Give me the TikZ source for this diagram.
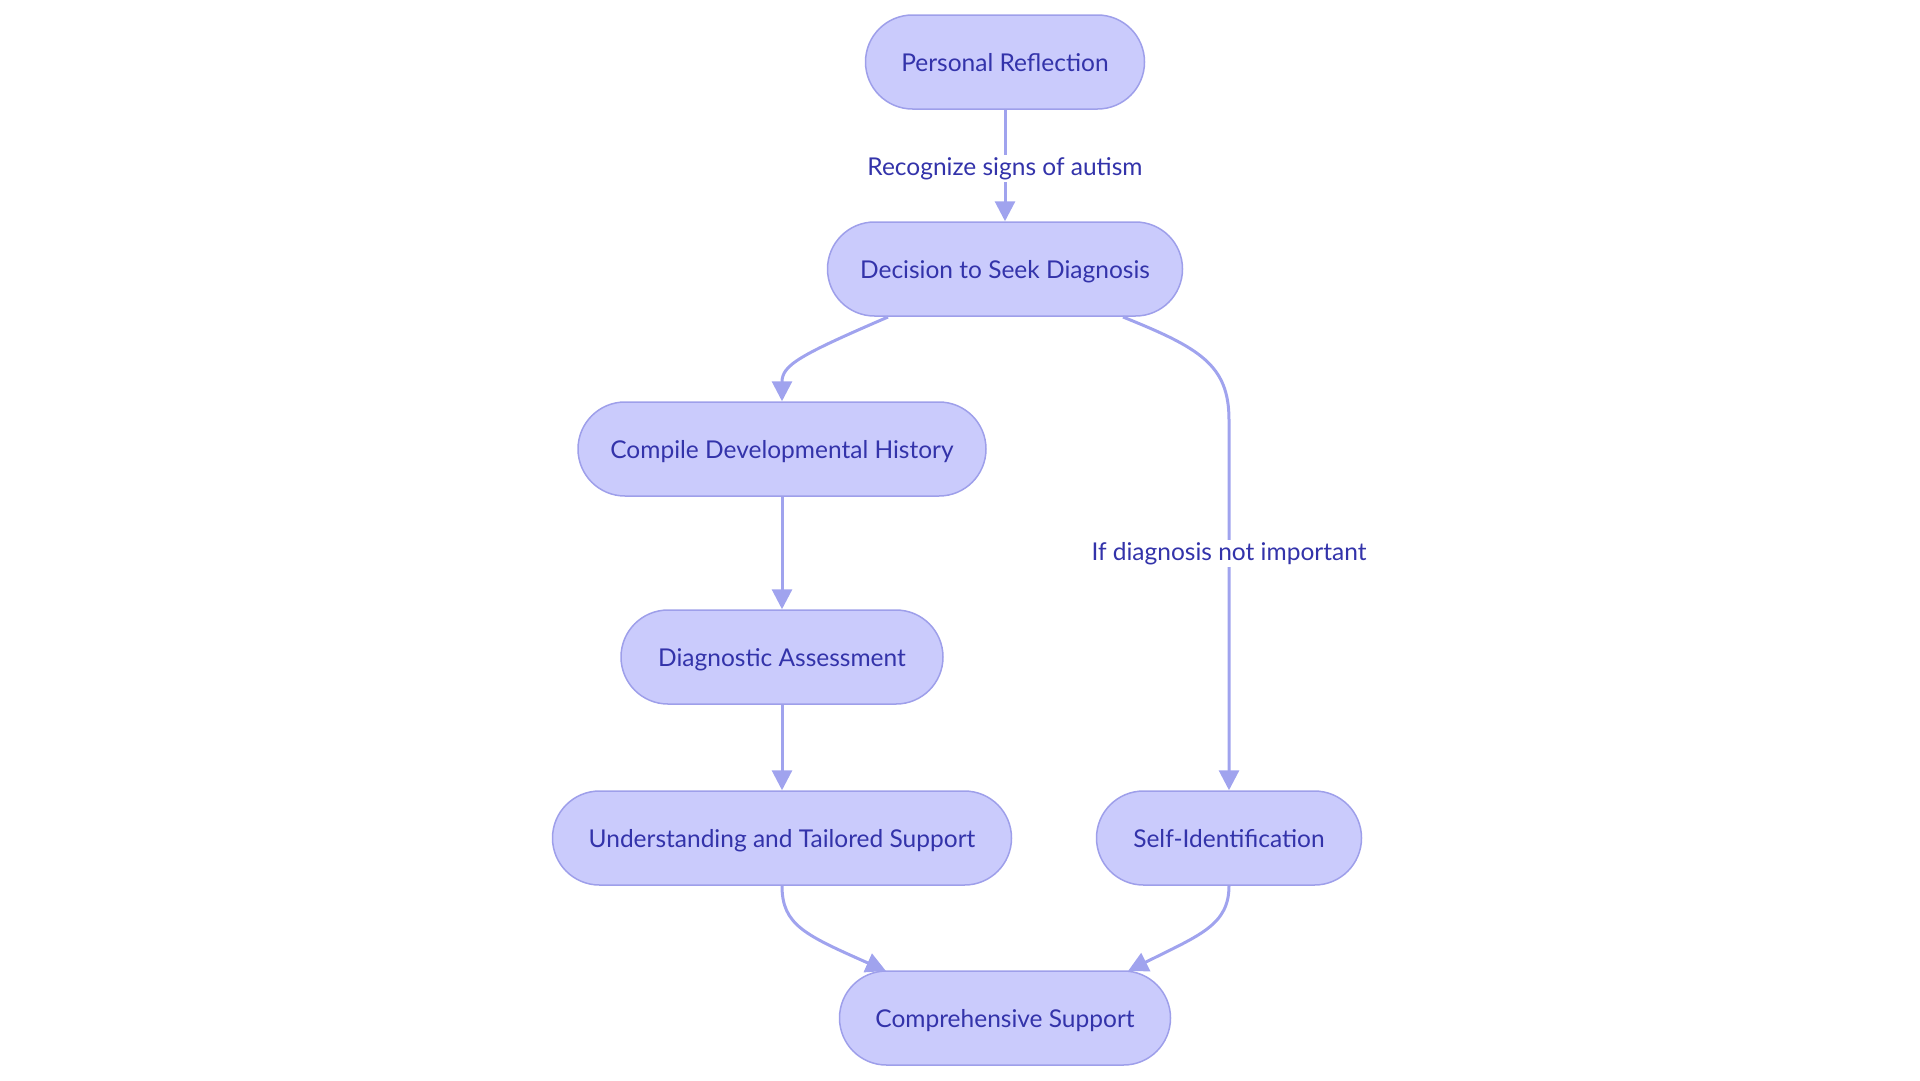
\documentclass[tikz,border=0pt]{standalone}
\usepackage{fontspec}
\setmainfont{Lato}
\usetikzlibrary{arrows.meta}
\definecolor{boxfill}{HTML}{CACBFC}
\definecolor{boxline}{HTML}{9E9FEA}
\definecolor{boxtext}{HTML}{3333AA}
\definecolor{edgeline}{HTML}{A0A3EE}
\tikzset{
  stepnode/.style={draw=boxline, fill=boxfill, line width=1.5pt, rounded corners=47pt,
    minimum height=94pt, text=boxtext, font=\fontsize{24.5}{29}\selectfont,
    text height=20pt, text depth=2pt},
  flow/.style={draw=edgeline, line width=3pt, -{Triangle[length=20pt, width=20pt]}},
  edgelabel/.style={fill=white, text=boxtext, font=\fontsize{24.5}{29}\selectfont, inner sep=2pt}
}
\begin{document}
\begin{tikzpicture}[x=1pt, y=-1pt]
    \useasboundingbox (0,0) rectangle (1920,1080);
    % Boxes
    \node[stepnode, minimum width=279pt] (reflect) at (1005,62) {Personal Reflection};
    \node[stepnode, minimum width=355pt] (decide) at (1005,269) {Decision to Seek Diagnosis};
    \node[stepnode, minimum width=408pt] (history) at (782,449) {Compile Developmental History};
    \node[stepnode, minimum width=322pt] (assess) at (782,657) {Diagnostic Assessment};
    \node[stepnode, minimum width=459pt] (tailored) at (782,838) {Understanding and Tailored Support};
    \node[stepnode, minimum width=265pt] (selfid) at (1229,838) {Self-Identification};
    \node[stepnode, minimum width=331pt] (support) at (1005,1018) {Comprehensive Support};
    % Diagnosis path
    \draw[flow] (reflect) -- (decide) node[pos=0.5, yshift=-3pt, edgelabel] {Recognize signs of autism};
    \draw[flow] (888,317) .. controls (800,355) and (782,365) .. (history.north);
    \draw[flow] (history) -- (assess);
    \draw[flow] (assess) -- (tailored);
    \draw[flow] (tailored.south) .. controls (782,925) and (805,935) .. (886,971);
    % Self-identification path
    \draw[flow] (1123,317) .. controls (1200,348) and (1229,365) .. (1229,420) -- (selfid.north)
        node[pos=0.36, edgelabel] {If diagnosis not important};
    \draw[flow] (selfid.south) .. controls (1229,925) and (1200,935) .. (1128,971);
\end{tikzpicture}
\end{document}
